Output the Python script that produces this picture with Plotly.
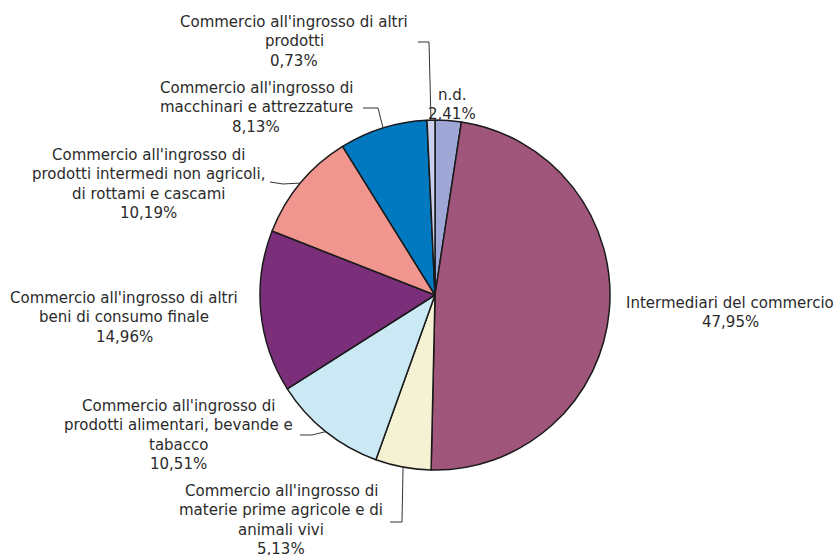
import math
import plotly.graph_objects as go

# Slice data (clockwise from 12 o'clock)
labels = [
    "n.d.",
    "Intermediari del commercio",
    "Commercio all'ingrosso di materie prime agricole e di animali vivi",
    "Commercio all'ingrosso di prodotti alimentari, bevande e tabacco",
    "Commercio all'ingrosso di altri beni di consumo finale",
    "Commercio all'ingrosso di prodotti intermedi non agricoli, di rottami e cascami",
    "Commercio all'ingrosso di macchinari e attrezzature",
    "Commercio all'ingrosso di altri prodotti",
]
values = [2.41, 47.95, 5.13, 10.51, 14.96, 10.19, 8.13, 0.73]
colors = ["#9fa7d6", "#a0567a", "#f4f2d2", "#cbe9f5", "#7b2f7b",
          "#f1968f", "#0079c1", "#c9d0ec"]

# Label text lines for each slice (percent appended below)
label_lines = [
    ["n.d."],
    ["Intermediari del commercio"],
    ["Commercio all'ingrosso di", "materie prime agricole e di", "animali vivi"],
    ["Commercio all'ingrosso di", "prodotti alimentari, bevande e", "tabacco"],
    ["Commercio all'ingrosso di altri", "beni di consumo finale"],
    ["Commercio all'ingrosso di", "prodotti intermedi non agricoli,", "di rottami e cascami"],
    ["Commercio all'ingrosso di", "macchinari e attrezzature"],
    ["Commercio all'ingrosso di altri", "prodotti"],
]

W, H = 836, 555
CX, CY, R = 435, 295, 175  # pie centre and radius in pixels

# Label anchor positions (pixel centre of the first line)
label_pos = [
    (452, 95), (730, 303), (281, 491), (178, 406),
    (124, 298), (148, 155), (256, 88), (294, 22),
]
# Leader line elbows (pixel): list of points before the slice edge, or None
leaders = [
    None,
    None,
    [(390, 522), (402, 522)],
    [(300, 435), (312, 435)],
    None,
    [(270, 182), (283, 184)],
    [(363, 108), (378, 108)],
    [(418, 42), (429, 42)],
]

def px(x):
    return x / W

def py(y):
    return 1 - y / H

fig = go.Figure(go.Pie(
    labels=labels,
    values=values,
    sort=False,
    direction="clockwise",
    rotation=0,
    marker=dict(colors=colors, line=dict(color="#1a1a1a", width=1.5)),
    textinfo="none",
    hoverinfo="label+percent",
    domain=dict(x=[px(CX - R), px(CX + R)], y=[py(CY + R), py(CY - R)]),
    showlegend=False,
))

FONT = dict(family="DejaVu Sans, Verdana, sans-serif", size=15, color="#2b2b2b")
LINE_H = 19.4

annotations = []
shapes = []
cum = 0.0
total = sum(values)
for i, v in enumerate(values):
    mid = (cum + v / 2) / total
    cum += v
    ang = 2 * math.pi * mid
    ex = CX + R * math.sin(ang)
    ey = CY - R * math.cos(ang)

    lines = label_lines[i] + [f"{v:.2f}%".replace(".", ",")]
    x0, y0 = label_pos[i]
    for k, t in enumerate(lines):
        annotations.append(dict(
            x=px(x0), y=py(y0 + k * LINE_H), xref="paper", yref="paper",
            text=t, showarrow=False, xanchor="center", yanchor="middle",
            font=FONT,
        ))

    if leaders[i]:
        pts = leaders[i] + [(ex, ey)]
        path = "M " + " L ".join(f"{px(a):.5f},{py(b):.5f}" for a, b in pts)
        shapes.append(dict(type="path", path=path, xref="paper", yref="paper",
                           line=dict(color="#333333", width=1)))

fig.update_layout(
    width=W, height=H,
    margin=dict(l=0, r=0, t=0, b=0),
    paper_bgcolor="white",
    plot_bgcolor="white",
    annotations=annotations,
    shapes=shapes,
)

fig.write_html("out.html")
